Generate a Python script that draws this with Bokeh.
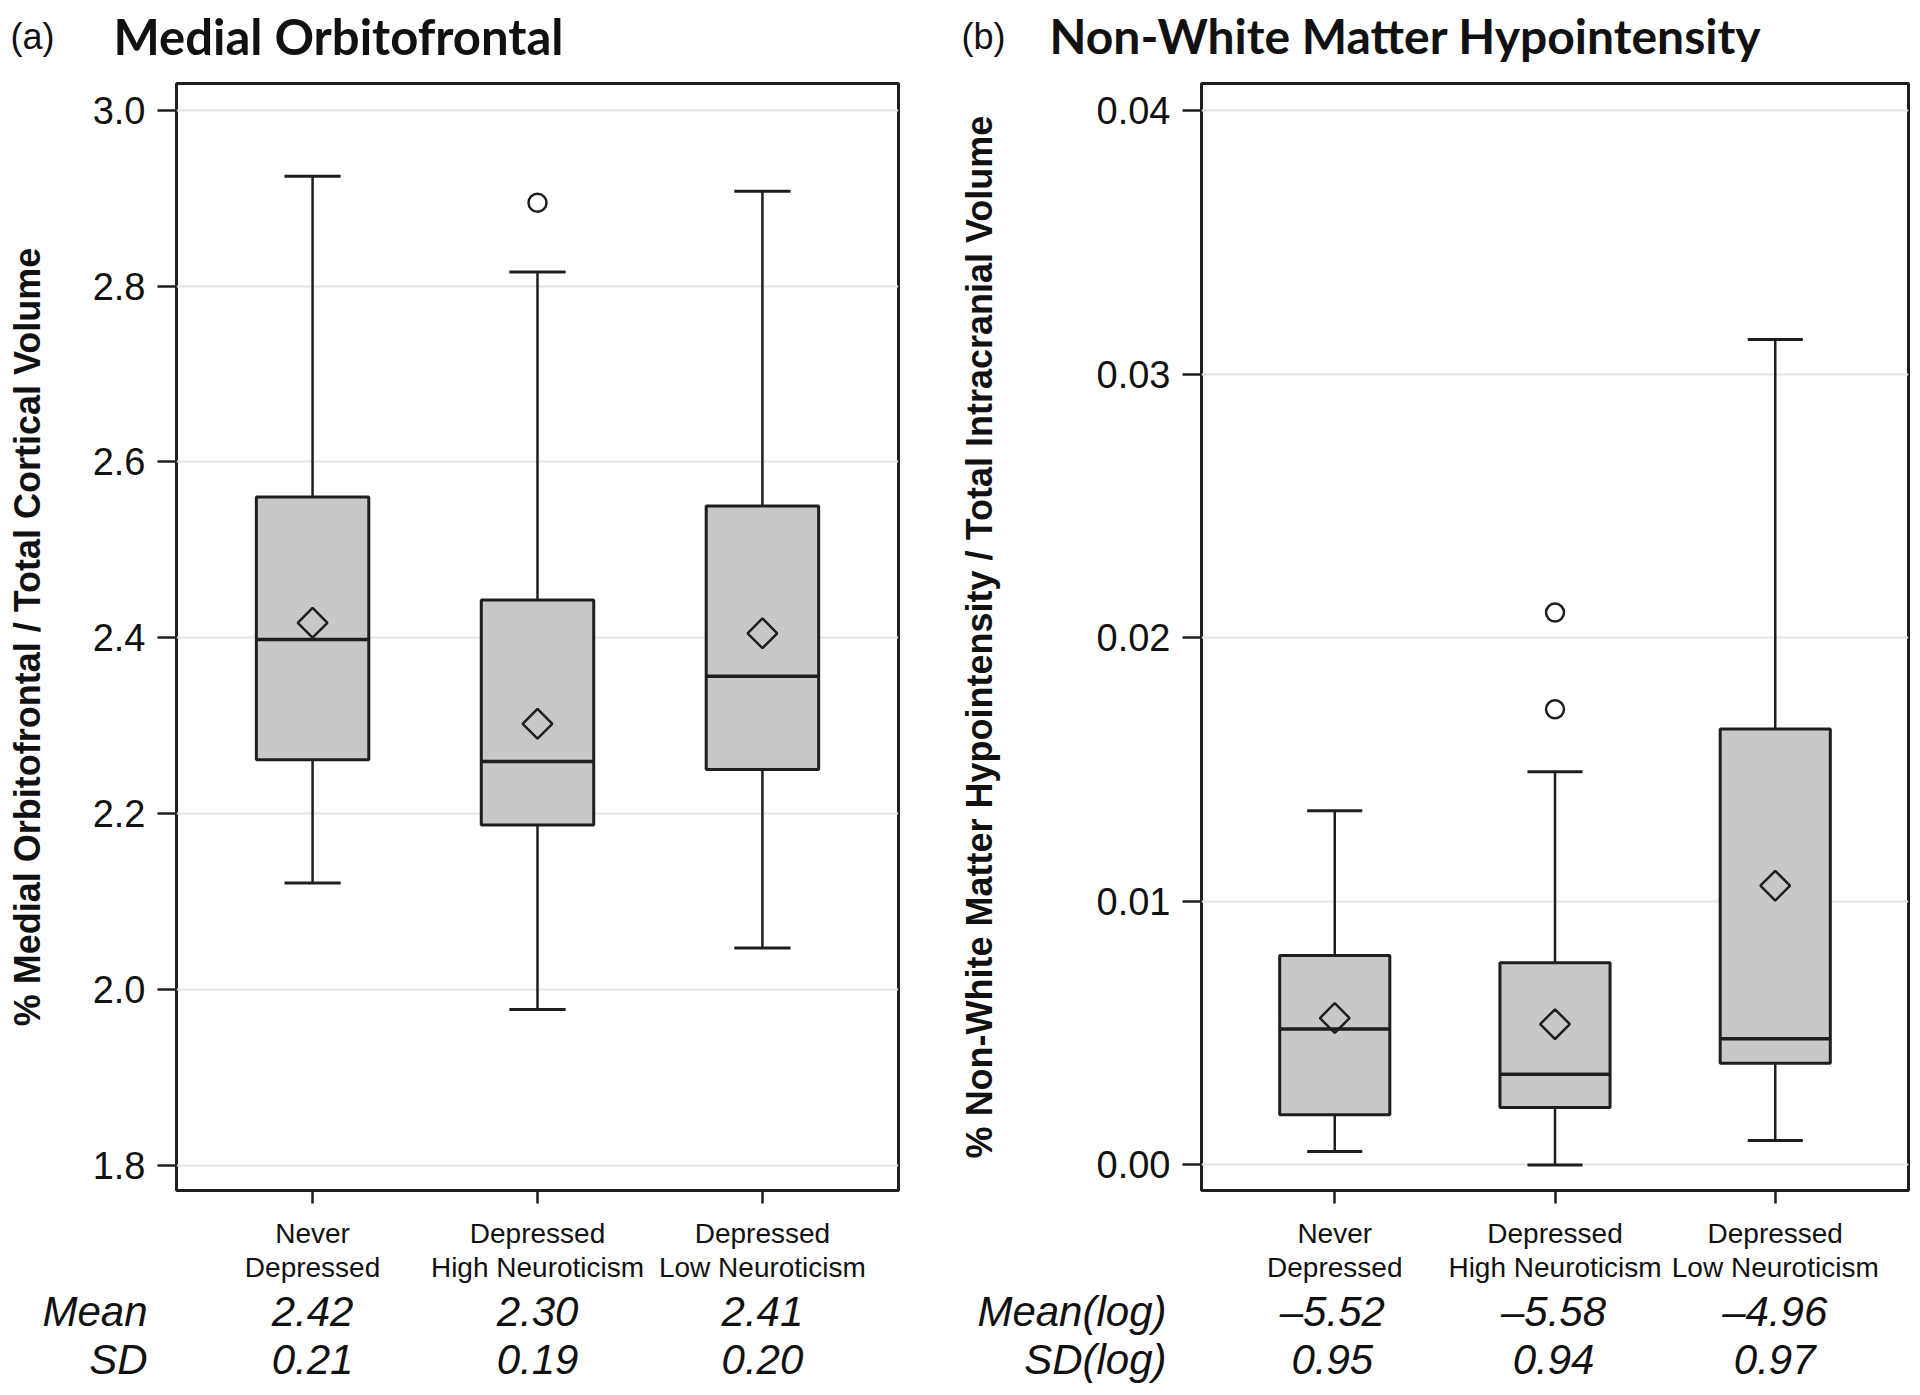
import numpy as np
from bokeh.plotting import figure
from bokeh.models import Range1d, FixedTicker, NumeralTickFormatter
from bokeh.layouts import row, column
from bokeh.embed import file_html
from bokeh.resources import INLINE
from bokeh.core.properties import value

# ---------------- data ----------------
groups = ["Never\nDepressed", "Depressed\nHigh Neuroticism", "Depressed\nLow Neuroticism"]

# (a) Medial Orbitofrontal
a_whisk_low = [2.121, 1.977, 2.047]
a_q1 = [2.261, 2.187, 2.250]
a_median = [2.398, 2.259, 2.356]
a_q3 = [2.560, 2.443, 2.550]
a_whisk_high = [2.925, 2.816, 2.908]
a_mean = [2.417, 2.302, 2.405]
a_outlier_group = [1]
a_outlier_value = [2.895]
a_ticks = [1.8, 2.0, 2.2, 2.4, 2.6, 2.8, 3.0]
a_mean_text = ["2.42", "2.30", "2.41"]
a_sd_text = ["0.21", "0.19", "0.20"]

# (b) Non-White Matter Hypointensity
b_whisk_low = [0.00051, 0.0, 0.00093]
b_q1 = [0.00190, 0.00218, 0.00386]
b_median = [0.00516, 0.00344, 0.00479]
b_q3 = [0.00794, 0.00767, 0.01654]
b_whisk_high = [0.01343, 0.01491, 0.03131]
b_mean = [0.00557, 0.00534, 0.01059]
b_outlier_group = [1, 1]
b_outlier_value = [0.02095, 0.01728]
b_ticks = [0.0, 0.01, 0.02, 0.03, 0.04]
b_mean_text = ["\u20135.52", "\u20135.58", "\u20134.96"]
b_sd_text = ["0.95", "0.94", "0.97"]

DARK = "#1e1e1e"
TXT = "#111111"
BOX_FILL = "#c8c8c8"
TITLE_H = 75       # title strip height
TOP = 8            # main figure top border
FRAME_H = 1107     # plot frame height
BOTTOM = 97        # main figure bottom border (category labels)
STATS_H = 97       # Mean / SD strip height
X0, X1 = -0.605, 2.605


def blank(width, height, x_range, y_range):
    p = figure(width=width, height=height, output_backend="svg", toolbar_location=None,
               x_range=x_range, y_range=y_range, x_axis_location=None, y_axis_location=None,
               min_border=0, min_border_left=0, min_border_right=0,
               min_border_top=0, min_border_bottom=0)
    p.outline_line_color = None
    p.grid.visible = False
    return p


def make_title(width, tag, title, tag_x, title_x, title_size):
    p = blank(width, TITLE_H, Range1d(0, width), Range1d(TITLE_H, 0))
    p.text(x=[tag_x], y=[36], text=[tag], text_font=value("Liberation Sans"),
           text_font_size="36px", text_baseline="middle", text_color=TXT)
    p.text(x=[title_x], y=[35], text=[title], text_font=value("Lato"),
           text_font_style="bold", text_font_size=title_size, text_baseline="middle",
           text_color=TXT)
    return p


def make_panel(width, ylabel, y_range, ticks, fmt, low, q1, med, q3, high, mean,
               out_g, out_v, left, frame_w, ylab_standoff):
    p = figure(width=width, height=TOP + FRAME_H + BOTTOM, output_backend="svg",
               toolbar_location=None,
               x_range=Range1d(X0, X1), y_range=Range1d(*y_range),
               min_border_left=left, min_border_right=width - left - frame_w,
               min_border_top=TOP, min_border_bottom=BOTTOM)
    p.outline_line_color = DARK
    p.outline_line_width = 3
    p.xgrid.visible = False
    p.ygrid.grid_line_color = "#e4e4e4"
    p.ygrid.grid_line_width = 2
    p.ygrid.ticker = FixedTicker(ticks=ticks)

    idx = np.arange(len(groups))
    # whiskers and caps
    p.segment(x0=idx, x1=idx, y0=q3, y1=high, line_color=DARK, line_width=2.5)
    p.segment(x0=idx, x1=idx, y0=q1, y1=low, line_color=DARK, line_width=2.5)
    p.segment(x0=idx - 0.125, x1=idx + 0.125, y0=high, y1=high, line_color=DARK, line_width=3)
    p.segment(x0=idx - 0.125, x1=idx + 0.125, y0=low, y1=low, line_color=DARK, line_width=3)
    # boxes and medians
    p.vbar(x=idx, width=0.5, bottom=q1, top=q3, fill_color=BOX_FILL,
           line_color=DARK, line_width=3)
    p.segment(x0=idx - 0.25, x1=idx + 0.25, y0=med, y1=med, line_color=DARK, line_width=3.5)
    # means (hollow diamonds)
    p.scatter(x=idx, y=mean, marker="square", angle=np.pi / 4, size=21,
              fill_color=None, line_color=DARK, line_width=2.5)
    # outliers (hollow circles)
    p.scatter(x=out_g, y=out_v, marker="circle", size=18, fill_color=None,
              line_color=DARK, line_width=2.5)

    for ax in (p.xaxis[0], p.yaxis[0]):
        ax.axis_line_color = None
        ax.major_tick_line_color = DARK
        ax.major_tick_line_width = 2.5
        ax.minor_tick_line_color = None
        ax.major_tick_in = 0
    p.yaxis.ticker = FixedTicker(ticks=ticks)
    p.yaxis.formatter = NumeralTickFormatter(format=fmt)
    p.yaxis.major_tick_out = 19
    p.yaxis.major_label_standoff = 12
    p.yaxis.major_label_text_font = "Liberation Sans"
    p.yaxis.major_label_text_font_size = "38px"
    p.yaxis.major_label_text_color = TXT
    p.yaxis.axis_label = ylabel
    p.yaxis.axis_label_text_font = "Liberation Sans"
    p.yaxis.axis_label_text_font_style = "bold"
    p.yaxis.axis_label_text_font_size = "36px"
    p.yaxis.axis_label_text_color = TXT
    p.yaxis.axis_label_standoff = ylab_standoff

    p.xaxis.ticker = FixedTicker(ticks=list(idx))
    p.xaxis.major_label_overrides = {int(i): g for i, g in zip(idx, groups)}
    p.xaxis.major_tick_out = 13
    p.xaxis.major_label_standoff = 14
    p.xaxis.major_label_text_font = "Liberation Sans"
    p.xaxis.major_label_text_font_size = "28px"
    p.xaxis.major_label_text_line_height = 1.1
    p.xaxis.major_label_text_color = TXT
    return p


def make_stats(width, left, frame_w, mean_lab, sd_lab, mean_text, sd_text, label_right_px):
    k = frame_w / (X1 - X0)                      # pixels per category unit
    xr = Range1d(X0 - left / k, X1 + (width - left - frame_w) / k)
    p = blank(width, STATS_H, xr, Range1d(STATS_H, 0))
    idx = np.arange(len(groups))
    lab_x = X0 - (left - label_right_px) / k
    for lab, texts, yy in ((mean_lab, mean_text, 24), (sd_lab, sd_text, 72)):
        p.text(x=[lab_x], y=[yy], text=[lab], text_font=value("Liberation Sans"),
               text_font_style="italic", text_font_size="42px", text_align="right",
               text_baseline="middle", text_line_height=1.0, text_color=TXT)
        p.text(x=idx, y=[yy] * len(idx), text=texts, text_font=value("Liberation Sans"),
               text_font_style="italic", text_font_size="42px", text_align="center",
               text_baseline="middle", text_line_height=1.0, text_color=TXT)
    return p


W_A, LEFT_A, FW_A = 955, 176, 722
W_B, LEFT_B, FW_B = 957, 243, 710

ta = make_title(W_A, "(a)", "Medial Orbitofrontal", 10, 113, "49px")
tb = make_title(W_B, "(b)", "Non-White Matter Hypointensity", 6, 94, "48px")
pa = make_panel(W_A, "% Medial Orbitofrontal / Total Cortical Volume",
                (1.771, 3.0306), a_ticks, "0.0",
                a_whisk_low, a_q1, a_median, a_q3, a_whisk_high, a_mean,
                a_outlier_group, a_outlier_value, LEFT_A, FW_A, 42)
pb = make_panel(W_B, "% Non-White Matter Hypointensity / Total Intracranial Volume",
                (-0.00097, 0.04102), b_ticks, "0.00",
                b_whisk_low, b_q1, b_median, b_q3, b_whisk_high, b_mean,
                b_outlier_group, b_outlier_value, LEFT_B, FW_B, 94)
sa = make_stats(W_A, LEFT_A, FW_A, "Mean", "SD", a_mean_text, a_sd_text, 147)
sb = make_stats(W_B, LEFT_B, FW_B, "Mean(log)", "SD(log)", b_mean_text, b_sd_text, 211)

layout = column(row(ta, tb), row(pa, pb), row(sa, sb))
open("out.html", "w").write(file_html(layout, INLINE))
